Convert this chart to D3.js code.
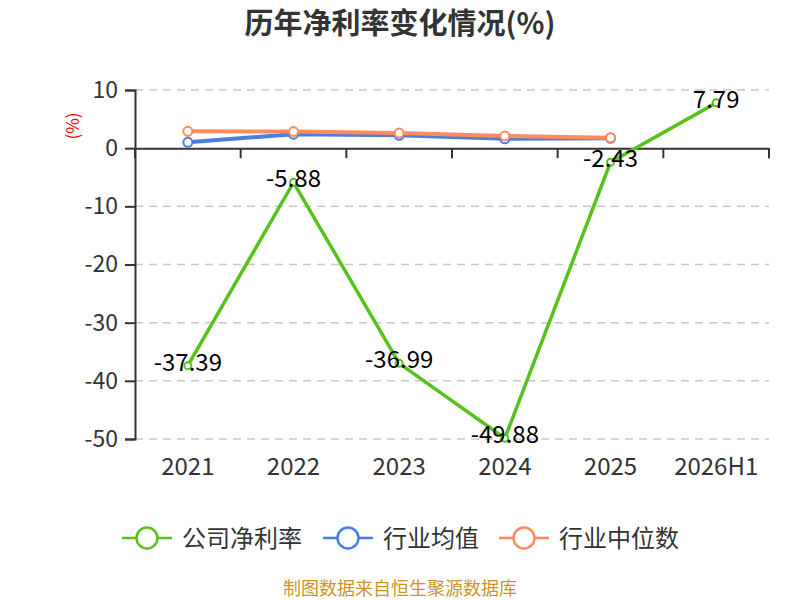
<!DOCTYPE html>
<html>
<head>
<meta charset="utf-8">
<title>历年净利率变化情况</title>
<style>
  body { margin: 0; background: #fff; }
  text { font-family: "Noto Sans CJK SC", "Noto Sans", sans-serif; }
</style>
</head>
<body>
<svg width="800" height="600"></svg>
<script src="https://d3js.org/d3.v7.min.js"></script>
<script>
// data
const years = ["2021", "2022", "2023", "2024", "2025", "2026H1"]
const companyRate = [-37.39, -5.88, -36.99, -49.88, -2.43, 7.79]
const industryAvg = [1.0, 2.4, 2.2, 1.6, 1.7, null]
const industryMedian = [2.9, 2.85, 2.6, 2.1, 1.8, null]
const yTicks = [10, 0, -10, -20, -30, -40, -50]

const seriesList = [
  { name: "公司净利率", values: companyRate, color: "#58c21d", width: 3.5, r: 3.5, label: true },
  { name: "行业均值", values: industryAvg, color: "#4a7ee0", width: 4, r: 4.5, label: false },
  { name: "行业中位数", values: industryMedian, color: "#ff8c5a", width: 4, r: 4.5, label: false }
]

const svg = d3.select("svg")
const plotLeft = 135, plotRight = 769, plotTop = 90, plotBottom = 439
const numFont = "'Noto Sans', sans-serif"

const x = d3.scaleBand().domain(years).range([plotLeft, plotRight])
const y = d3.scaleLinear().domain([-50, 10]).range([plotBottom, plotTop])
const cx = d => x(d) + x.bandwidth() / 2

// title
svg.append("text")
  .attr("x", 400).attr("y", 34)
  .attr("text-anchor", "middle")
  .attr("font-size", 29).attr("font-weight", "bold")
  .attr("fill", "#333")
  .text("历年净利率变化情况(%)")

// grid
svg.append("g")
  .selectAll("line")
  .data(yTicks.filter(d => d !== 0))
  .join("line")
    .attr("x1", plotLeft).attr("x2", plotRight)
    .attr("y1", d => y(d)).attr("y2", d => y(d))
    .attr("stroke", "#c8c8c8")
    .attr("stroke-dasharray", "8,6")
    .attr("stroke-width", 1.5)

// y axis
const yAxis = svg.append("g")
  .attr("transform", `translate(${plotLeft},0)`)
  .call(d3.axisLeft(y).tickValues(yTicks).tickSize(10).tickPadding(7).tickFormat(d => String(d)))
yAxis.select(".domain").attr("stroke", "#333").attr("stroke-width", 2)
yAxis.selectAll(".tick line").attr("stroke", "#333").attr("stroke-width", 2)
yAxis.selectAll(".tick text")
  .attr("font-size", 23).attr("fill", "#333")
  .attr("font-family", numFont)

// x axis on the zero line
const xAxis = svg.append("g")
  .attr("transform", `translate(0,${y(0)})`)
  .call(d3.axisBottom(x).tickSize(0))
xAxis.select(".domain").attr("stroke", "#333").attr("stroke-width", 2)
xAxis.selectAll(".tick text").remove()
svg.append("g")
  .selectAll("line")
  .data(d3.range(years.length + 1))
  .join("line")
    .attr("x1", i => plotLeft + i * x.step()).attr("x2", i => plotLeft + i * x.step())
    .attr("y1", y(0)).attr("y2", y(0) + 10)
    .attr("stroke", "#333").attr("stroke-width", 2)

svg.append("g")
  .selectAll("text")
  .data(years)
  .join("text")
    .attr("x", d => cx(d))
    .attr("y", 475)
    .attr("text-anchor", "middle")
    .attr("font-size", 24).attr("fill", "#333")
    .attr("font-family", numFont)
    .text(d => d)

// y axis name
svg.append("text")
  .attr("transform", `translate(79,126) rotate(-90)`)
  .attr("text-anchor", "middle")
  .attr("font-size", 17).attr("fill", "#f00")
  .text("(%)")

// lines
const line = d3.line()
  .defined(d => d.v !== null)
  .x(d => cx(d.year))
  .y(d => y(d.v))

const labelLayer = []
seriesList.forEach(s => {
  const pts = years.map((yr, i) => ({ year: yr, v: s.values[i] }))
  const g = svg.append("g")
  g.append("path")
    .datum(pts)
    .attr("d", line)
    .attr("fill", "none")
    .attr("stroke", s.color)
    .attr("stroke-width", s.width)
  g.selectAll("circle")
    .data(pts.filter(d => d.v !== null))
    .join("circle")
      .attr("cx", d => cx(d.year))
      .attr("cy", d => y(d.v))
      .attr("r", s.r)
      .attr("fill", "#fff")
      .attr("stroke", s.color)
      .attr("stroke-width", 2)
  if (s.label) labelLayer.push(pts.filter(d => d.v !== null))
})

// data labels on top
labelLayer.forEach(pts => {
  svg.append("g")
    .selectAll("text")
    .data(pts)
    .join("text")
      .attr("x", d => cx(d.year))
      .attr("y", d => y(d.v) + 5)
      .attr("text-anchor", "middle")
      .attr("font-size", 24).attr("fill", "#000")
      .attr("font-family", numFont)
      .text(d => d.v.toFixed(2))
})

// legend
const legendX = [122, 323, 499]
const legend = svg.append("g")
  .selectAll("g")
  .data(seriesList)
  .join("g")
    .attr("transform", (d, i) => `translate(${legendX[i]},538)`)
legend.append("line")
  .attr("x1", 0).attr("x2", 50)
  .attr("stroke", d => d.color).attr("stroke-width", 2.5)
legend.append("circle")
  .attr("cx", 25).attr("r", 10.5)
  .attr("fill", "#fff")
  .attr("stroke", d => d.color).attr("stroke-width", 2.5)
legend.append("text")
  .attr("x", 60).attr("y", 9)
  .attr("font-size", 24).attr("fill", "#333")
  .text(d => d.name)

// footer
svg.append("text")
  .attr("x", 400).attr("y", 595)
  .attr("text-anchor", "middle")
  .attr("font-size", 18).attr("fill", "#c8962a")
  .text("制图数据来自恒生聚源数据库")
</script>
</body>
</html>
